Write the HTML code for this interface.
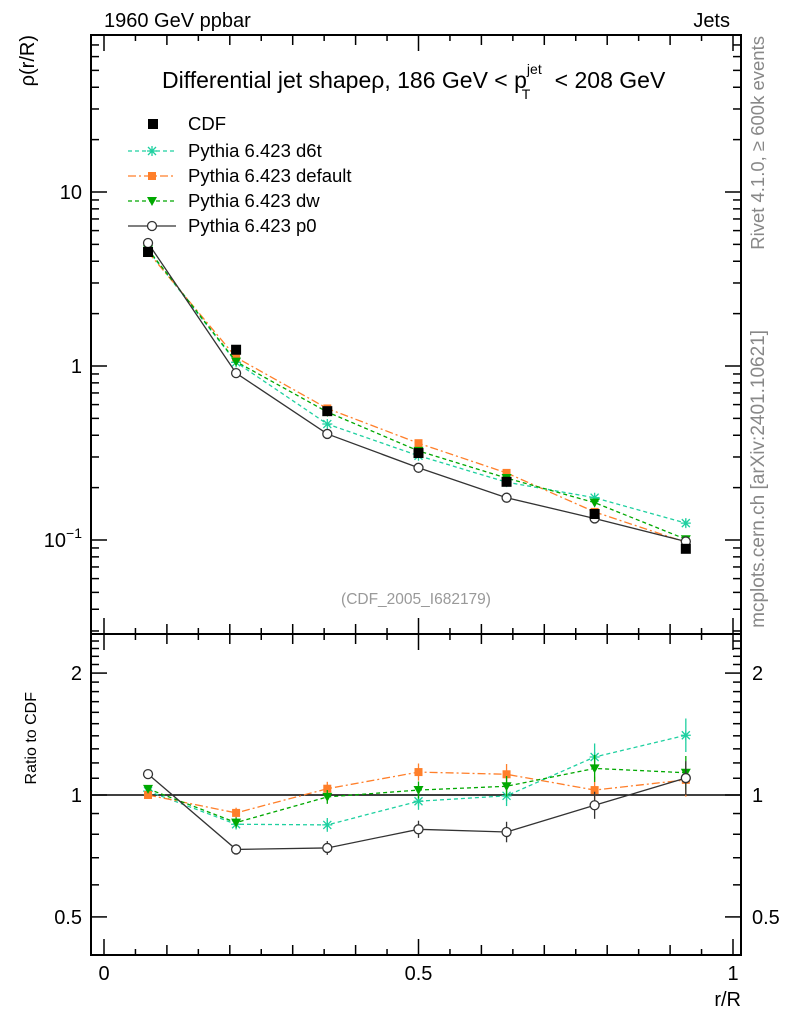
<!DOCTYPE html>
<html><head><meta charset="utf-8"><style>body{margin:0;background:#fff}svg{display:block;font-family:"Liberation Sans",sans-serif}</style></head>
<body>
<svg id="c" width="786" height="1024"></svg>
<script>
const rValues=[0.07,0.21,0.355,0.5,0.64,0.78,0.925];
const cdfValues=[4.52,1.24,0.55,0.316,0.216,0.141,0.089];
const cdfErr=[0.05,0.03,0.03,0.03,0.03,0.03,0.03];
const d6tValues=[4.62,1.05,0.464,0.305,0.215,0.175,0.125];
const defaultValues=[4.52,1.12,0.57,0.36,0.243,0.145,0.097];
const dwValues=[4.68,1.06,0.544,0.325,0.227,0.164,0.101];
const p0Values=[5.09,0.91,0.407,0.26,0.175,0.133,0.098];
const mcErr=[0.02,0.03,0.04,0.05,0.06,0.08,0.1];
const mainTicks=[0.1,1,10];
const ratioTicks=[0.5,1,2];
const xTicks=[0,0.5,1];

const NS="http://www.w3.org/2000/svg",svg=document.getElementById('c');
function el(t,a,p){const e=document.createElementNS(NS,t);for(const k in a)e.setAttribute(k,a[k]);(p||svg).appendChild(e);return e;}
const L=91,R=741,T=35,M=634,B=955;
const X=v=>104+629*v;
const Y=v=>192-174*(Math.log10(v)-1);
const YR=v=>795-405*Math.log10(v);

let f=el('rect',{x:L,y:T,width:R-L,height:M-T,fill:'none',stroke:'#000','stroke-width':2});

f=el('rect',{x:L,y:M,width:R-L,height:B-M,fill:'none',stroke:'#000','stroke-width':2});


for(let i=0;i<=20;i++){const v=i*0.05,x=X(v);const len=(i%10==0)?16:(i%2==0?10:6);
 [[T,1],[M,1],[M,-1],[B,-1]].forEach(([y,d])=>{const t=el('line',{x1:x,x2:x,y1:y,y2:y+d*len,stroke:'#000','stroke-width':1.5});});}
xTicks.forEach(v=>{const t=el('text',{x:X(v),y:980,'font-size':20,'text-anchor':'middle'});t.textContent=String(v);});
for(let e=-2;e<=1;e++)for(let m=1;m<=9;m++){const v=m*Math.pow(10,e),y=Y(v);if(y<T||y>M)continue;const len=m==1?16:8;
 [[L,1],[R,-1]].forEach(([x,d])=>{const t=el('line',{x1:x,x2:x+d*len,y1:y,y2:y,stroke:'#000','stroke-width':1.5});});}
mainTicks.forEach(v=>{let t;if(v==0.1){t=el('text',{x:82,y:Y(v)+7,'font-size':20,'text-anchor':'end'});t.innerHTML='10<tspan dy="-9" font-size="14">−1</tspan>';}else{t=el('text',{x:82,y:Y(v)+7,'font-size':20,'text-anchor':'end'});t.textContent=String(v);}});
for(let v=0.4;v<=2.5;v+=0.1){const y=YR(v);if(y<M||y>B)continue;const major=[0.5,1,2].some(q=>Math.abs(q-v)<1e-6);const len=major?16:8;
 [[L,1],[R,-1]].forEach(([x,d])=>{const t=el('line',{x1:x,x2:x+d*len,y1:y,y2:y,stroke:'#000','stroke-width':1.5});});}
ratioTicks.forEach(v=>{[[82,'end'],[752,'start']].forEach(([x,a])=>{const t=el('text',{x:x,y:YR(v)+7,'font-size':20,'text-anchor':a});t.textContent=String(v);});});
let ln=el('line',{x1:L,x2:R,y1:YR(1),y2:YR(1),stroke:'#000','stroke-width':1.5});

function txt(s,a,name){const t=el('text',a);t.innerHTML=s;return t;}
txt('1960 GeV ppbar',{x:104,y:27,'font-size':20},'beam-label');
txt('Jets',{x:730,y:27,'font-size':20,'text-anchor':'end'},'process-label');
txt('Differential jet shapeρ, 186 GeV &lt; p<tspan dy="-14" font-size="14">jet</tspan><tspan dx="-20" dy="25" font-size="14">T</tspan><tspan dx="18" dy="-11"> &lt; 208 GeV</tspan>',{x:162,y:88,'font-size':23},'plot-title');
txt('ρ(r/R)',{x:0,y:0,'font-size':20,'text-anchor':'end',transform:'translate(34,35) rotate(-90)'},'y-axis-title');
txt('Ratio to CDF',{x:0,y:0,'font-size':16,'text-anchor':'end',transform:'translate(36,692) rotate(-90)'},'ratio-axis-title');
txt('r/R',{x:741,y:1006,'font-size':20,'text-anchor':'end'},'x-axis-title');
txt('(CDF_2005_I682179)',{x:416,y:604,'font-size':15.5,fill:'#999','text-anchor':'middle'},'analysis-label');
txt('Rivet 4.1.0, ≥ 600k events',{x:0,y:0,'font-size':18.5,fill:'#888','text-anchor':'end',transform:'translate(764,36) rotate(-90)'},'rivet-label');
txt('mcplots.cern.ch [arXiv:2401.10621]',{x:0,y:0,'font-size':19,fill:'#888','text-anchor':'end',transform:'translate(764,330) rotate(-90)'},'mcplots-label');

function marker(type,x,y,c,g){let m;
 if(type=='sq')m=el('rect',{x:x-5,y:y-5,width:10,height:10,fill:c},g);
 else if(type=='osq')m=el('rect',{x:x-4,y:y-4,width:8,height:8,fill:c},g);
 else if(type=='tri')m=el('path',{d:`M${x-5},${y-4}L${x+5},${y-4}L${x},${y+5}Z`,fill:c},g);
 else if(type=='circ')m=el('circle',{cx:x,cy:y,r:4.5,fill:'#fff',stroke:c,'stroke-width':1.3},g);
 else {m=el('path',{d:`M${x-5},${y}H${x+5}M${x},${y-5}V${y+5}M${x-4},${y-4}L${x+4},${y+4}M${x-4},${y+4}L${x+4},${y-4}`,stroke:c,'stroke-width':1.3},g);}
 }
const series=[
 {n:'d6t',v:d6tValues,c:'#1ed0a0',d:'4,3',m:'star',lab:'Pythia 6.423 d6t'},
 {n:'default',v:defaultValues,c:'#ff7f2a',d:'8,3,2,3',m:'osq',lab:'Pythia 6.423 default'},
 {n:'dw',v:dwValues,c:'#00a800',d:'4,3',m:'tri',lab:'Pythia 6.423 dw'},
 {n:'p0',v:p0Values,c:'#333',d:'',m:'circ',lab:'Pythia 6.423 p0'}];
series.forEach(s=>{
 [[Y,s.v],[YR,s.v.map((v,i)=>v/cdfValues[i])]].forEach(([yf,vals],pi)=>{
  const g=el('g',{});
  const pts=vals.map((v,i)=>X(rValues[i])+','+yf(v)).join(' ');
  el('polyline',{points:pts,fill:'none',stroke:s.c,'stroke-width':1.3,'stroke-dasharray':s.d},g);
  vals.forEach((v,i)=>{const x=X(rValues[i]),e=mcErr[i]*(pi?1:0.5);el('line',{x1:x,x2:x,y1:yf(v*(1+e)),y2:yf(v/(1+e)),stroke:s.c,'stroke-width':1.3},g);marker(s.m,x,yf(v),s.c,g);});
 });});
const cg=el('g',{});
cdfValues.forEach((v,i)=>{marker('sq',X(rValues[i]),Y(v),'#000',cg);});

const lg=el('g',{});
marker('sq',153,124,'#000',lg);txt('CDF',{x:188,y:130,'font-size':18.5},'legend-entry');
series.forEach((s,i)=>{const y=151+i*25;el('line',{x1:128,x2:176,y1:y,y2:y,stroke:s.c,'stroke-width':1.3,'stroke-dasharray':s.d},lg);marker(s.m,152,y,s.c,lg);txt(s.lab,{x:188,y:y+6,'font-size':18.5},'legend-entry');});
</script>
</body></html>
